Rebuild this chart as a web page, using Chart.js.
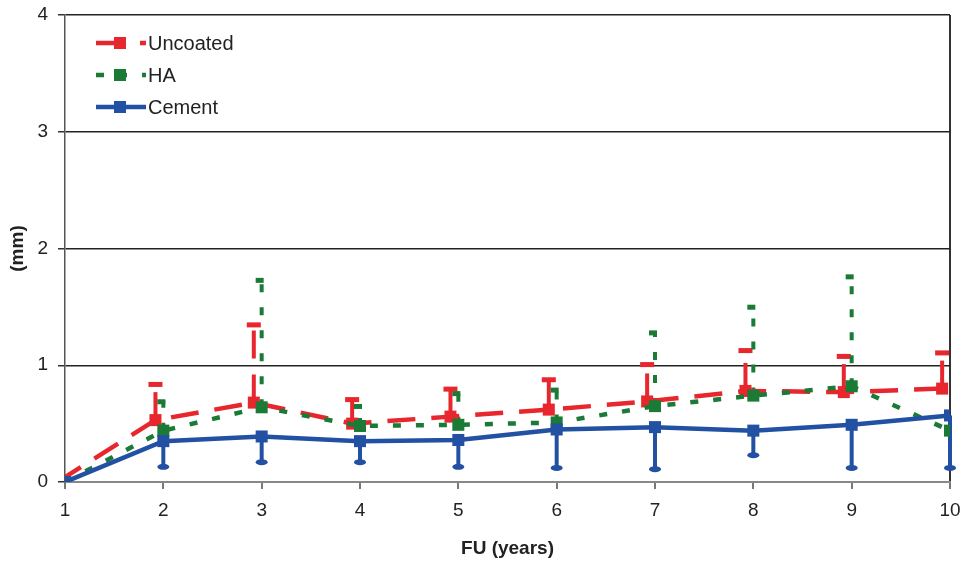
<!DOCTYPE html>
<html>
<head>
<meta charset="utf-8">
<script src="https://cdn.jsdelivr.net/npm/chart.js@4.4.1/dist/chart.umd.min.js"></script>
<style>
  html, body { margin: 0; padding: 0; background: #fff; }
  #wrap { width: 965px; height: 562px; }
</style>
</head>
<body>
<div id="wrap"><canvas id="chart" width="965" height="562"></canvas></div>
<script>
// Follow-up years
const years = [1, 2, 3, 4, 5, 6, 7, 8, 9, 10];

// Mean values (mm)
const uncoated = [0, 0.53, 0.68, 0.50, 0.56, 0.62, 0.69, 0.78, 0.77, 0.80];
const ha       = [0, 0.44, 0.64, 0.48, 0.49, 0.51, 0.65, 0.74, 0.82, 0.44];
const cement   = [0, 0.35, 0.39, 0.35, 0.36, 0.45, 0.47, 0.44, 0.49, 0.57];

// One-sided error bar ends (mm): up for Uncoated / HA, down for Cement
const uncoatedHigh = [0, 0.84, 1.35, 0.71, 0.80, 0.88, 1.01, 1.13, 1.08, 1.11];
const haHigh       = [0, 0.70, 1.74, 0.66, 0.77, 0.80, 1.29, 1.51, 1.77, 0.44];
const cementLow    = [0, 0.13, 0.17, 0.17, 0.13, 0.12, 0.11, 0.23, 0.12, 0.12];

const yTicks = [0, 1, 2, 3, 4];

const RED = '#e8262d';
const GREEN = '#1b7a36';
const BLUE = '#2250a2';
const FONT = "'Liberation Sans', Arial, sans-serif";

// uncoated points are drawn a little left of the tick in the original
const shiftRed = -0.08;

const series = [
  { label: 'Uncoated', values: uncoated, err: uncoatedHigh, color: RED, dash: [28, 16], shift: shiftRed, order: 2, cap: 'flat' },
  { label: 'HA', values: ha, err: haHigh, color: GREEN, dash: [8, 15], shift: 0, order: 1, cap: 'half' },
  { label: 'Cement', values: cement, err: cementLow, color: BLUE, dash: [], shift: 0, order: 0, cap: 'round' }
];

const datasets = series.map(s => ({
  label: s.label,
  data: years.map((x, i) => ({ x: x + s.shift, y: s.values[i] })),
  borderColor: s.color,
  backgroundColor: s.color,
  borderWidth: 4.5,
  borderDash: s.dash,
  pointStyle: 'rect',
  pointRadius: 8.5,
  pointBorderWidth: 0,
  pointBackgroundColor: s.color,
  tension: 0,
  order: s.order
}));

// error bars, drawn under the lines
const errorBars = {
  id: 'errorBars',
  beforeDatasetsDraw(chart) {
    const ctx = chart.ctx;
    const xs = chart.scales.x, ys = chart.scales.y;
    series.forEach(s => {
      ctx.save();
      ctx.strokeStyle = s.color;
      ctx.fillStyle = s.color;
      ctx.lineWidth = 4;
      ctx.setLineDash(s.dash);
      years.forEach((x, i) => {
        if (s.err[i] === s.values[i]) return;
        const px = xs.getPixelForValue(x + s.shift);
        const p0 = ys.getPixelForValue(s.values[i]);
        const p1 = ys.getPixelForValue(s.err[i]);
        ctx.beginPath();
        ctx.moveTo(px, p0);
        ctx.lineTo(px, p1);
        ctx.stroke();
        if (s.cap === 'flat') {
          ctx.fillRect(px - 7, p1 - 2, 14, 5);
        } else if (s.cap === 'half') {
          ctx.fillRect(px - 6, p1 - 1, 8, 5);
        } else {
          ctx.beginPath();
          ctx.ellipse(px, p1, 6, 3, 0, 0, Math.PI * 2);
          ctx.fill();
        }
      });
      ctx.restore();
    });
  }
};

// legend inside the plot, top left
const innerLegend = {
  id: 'innerLegend',
  afterDraw(chart) {
    const ctx = chart.ctx;
    const rows = [43, 75, 107];
    series.forEach((s, i) => {
      const y = rows[i];
      ctx.save();
      ctx.strokeStyle = s.color;
      ctx.fillStyle = s.color;
      ctx.lineWidth = 4.5;
      ctx.setLineDash(s.dash);
      ctx.beginPath();
      ctx.moveTo(96, y);
      ctx.lineTo(146, y);
      ctx.stroke();
      ctx.fillRect(114, y - 6, 12, 12);
      ctx.setLineDash([]);
      ctx.fillStyle = '#222';
      ctx.font = '20px ' + FONT;
      ctx.textBaseline = 'middle';
      ctx.fillText(s.label, 148, y + 1);
      ctx.restore();
    });
  }
};

new Chart(document.getElementById('chart'), {
  type: 'line',
  data: { datasets },
  options: {
    responsive: false,
    animation: false,
    layout: { padding: { top: 15, right: 15, left: 0, bottom: 0 } },
    plugins: {
      legend: { display: false },
      tooltip: { enabled: false }
    },
    scales: {
      x: {
        type: 'linear',
        min: 1,
        max: 10,
        afterFit(scale) {
          scale.height = 80;
          scale.paddingLeft = 0;
          scale.paddingRight = 0;
        },
        afterBuildTicks(scale) { scale.ticks = years.map(v => ({ value: v })); },
        ticks: {
          color: '#222',
          font: { family: FONT, size: 19 },
          padding: 10,
          maxRotation: 0
        },
        grid: {
          color: ctx => ctx.tick && ctx.tick.value === 10 ? '#333' : 'rgba(0,0,0,0)',
          tickColor: '#777',
          tickLength: 7,
          lineWidth: 2
        },
        border: { color: '#888', width: 2 },
        title: {
          display: true,
          text: 'FU (years)',
          color: '#222',
          font: { family: FONT, size: 19, weight: 'bold' },
          padding: { top: 0, bottom: 2 }
        }
      },
      y: {
        min: 0,
        max: 4,
        afterFit(scale) {
          scale.width = 65;
          scale.paddingTop = 0;
          scale.paddingBottom = 0;
        },
        afterBuildTicks(scale) { scale.ticks = yTicks.map(v => ({ value: v })); },
        ticks: {
          color: '#222',
          font: { family: FONT, size: 19 },
          padding: 10
        },
        grid: {
          color: ctx => ctx.tick && ctx.tick.value === 0 ? 'rgba(0,0,0,0)' : '#222',
          tickColor: '#333',
          tickLength: 7,
          lineWidth: 1.5
        },
        border: { color: '#555', width: 1.5 },
        title: {
          display: true,
          text: '(mm)',
          color: '#222',
          font: { family: FONT, size: 19, weight: 'bold' },
          padding: { top: 6, bottom: 0 }
        }
      }
    }
  },
  plugins: [errorBars, innerLegend]
});
</script>
</body>
</html>
